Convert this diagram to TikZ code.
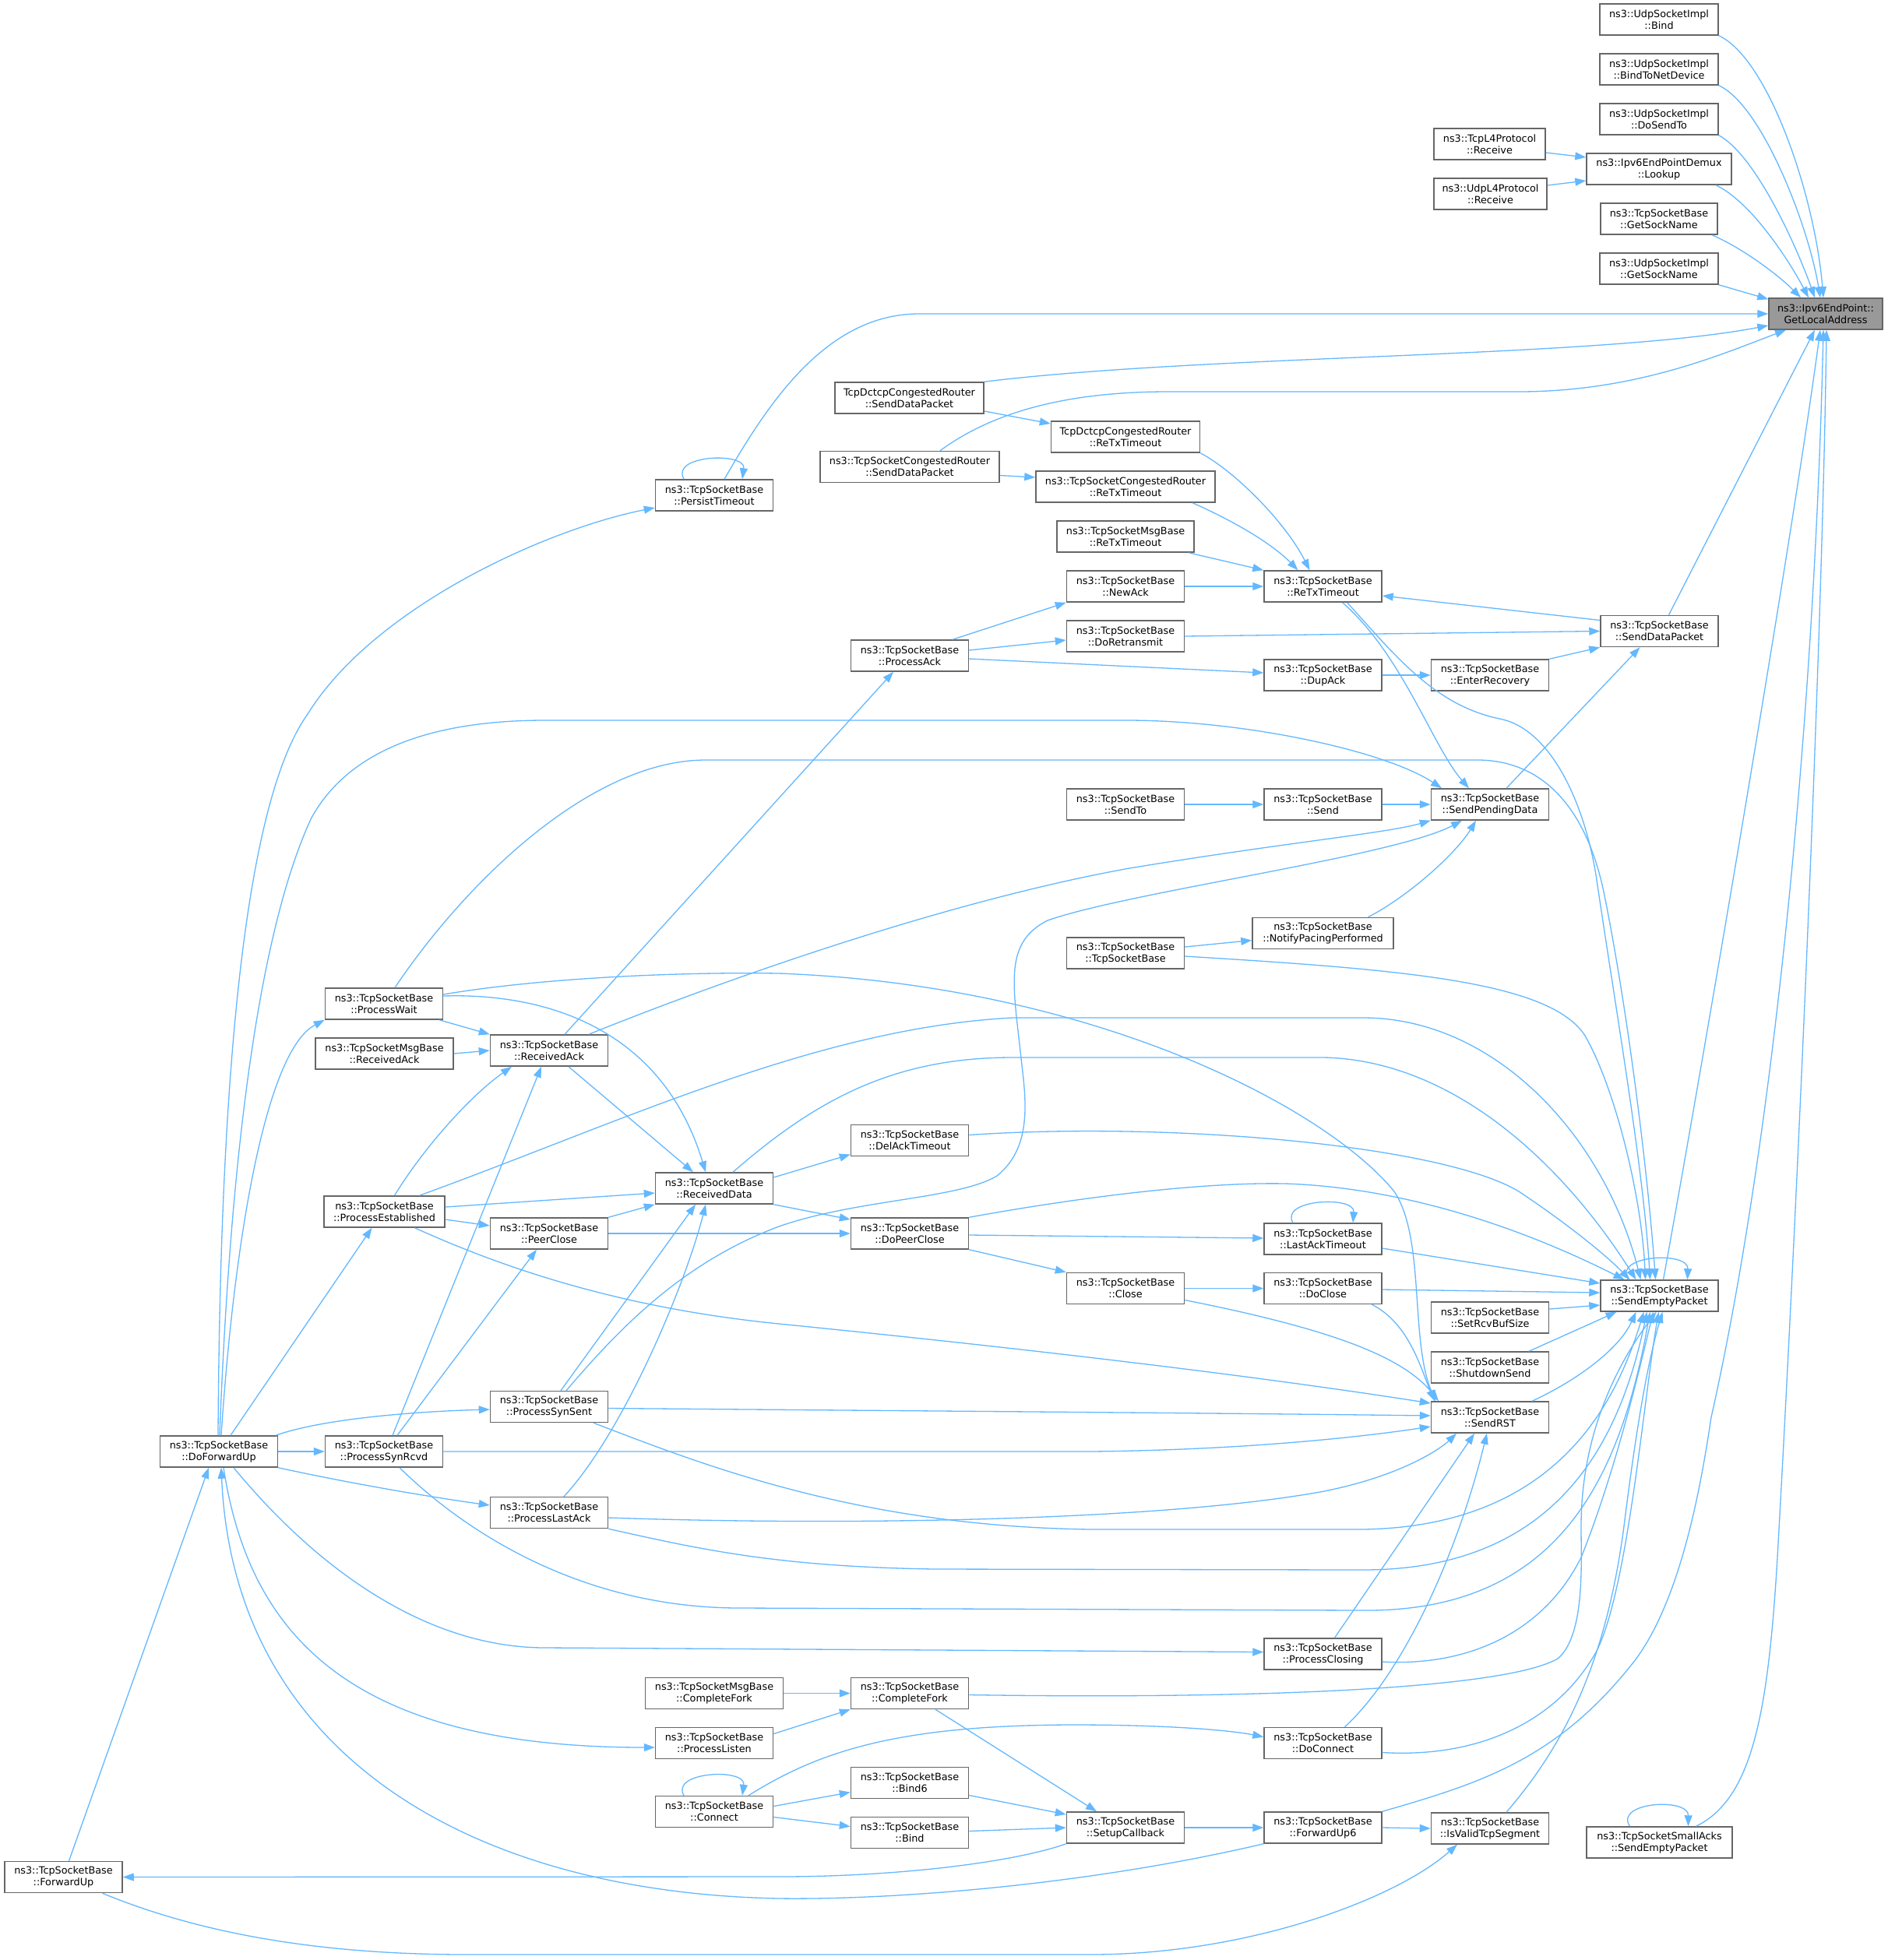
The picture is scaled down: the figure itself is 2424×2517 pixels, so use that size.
\documentclass[tikz,border=0pt]{standalone}
\usepackage{fontspec}
\setmainfont{DejaVu Sans}
\usetikzlibrary{arrows.meta}
\definecolor{edgec}{HTML}{63B8FF}
\definecolor{boxc}{HTML}{666666}
\definecolor{rootc}{HTML}{999999}
\tikzset{
  fn/.style={draw=boxc, line width=1.5pt, fill=white, minimum height=40pt, inner sep=0pt, align=center, font=\fontsize{12.8pt}{15pt}\selectfont},
  rootfn/.style={fn, fill=rootc},
  cedge/.style={draw=edgec, line width=1.3pt, -{Triangle[length=14pt,width=10pt]}},
}
\begin{document}
\begin{tikzpicture}[x=1pt,y=-1pt]
\fill[white] (0,0) rectangle (2424,2517);
\useasboundingbox (0,0) rectangle (2424,2517);
% ---------- nodes ----------
\node[rootfn, minimum width=146] (gla) at (2344,403) {ns3::Ipv6EndPoint::\\GetLocalAddress};
\node[fn, minimum width=152] (ubind) at (2130,25) {ns3::UdpSocketImpl\\::Bind};
\node[fn, minimum width=152] (ubtnd) at (2130,89) {ns3::UdpSocketImpl\\::BindToNetDevice};
\node[fn, minimum width=152] (udst) at (2130,153) {ns3::UdpSocketImpl\\::DoSendTo};
\node[fn, minimum width=186] (lookup) at (2130,217) {ns3::Ipv6EndPointDemux\\::Lookup};
\node[fn, minimum width=150] (tgsn) at (2130,281) {ns3::TcpSocketBase\\::GetSockName};
\node[fn, minimum width=152] (ugsn) at (2130,345) {ns3::UdpSocketImpl\\::GetSockName};
\node[fn, minimum width=143] (tcprecv) at (1912.5,185) {ns3::TcpL4Protocol\\::Receive};
\node[fn, minimum width=145] (udprecv) at (1913.5,249) {ns3::UdpL4Protocol\\::Receive};
\node[fn, minimum width=151] (sdp) at (2130.5,810.5) {ns3::TcpSocketBase\\::SendDataPacket};
\node[fn, minimum width=151] (sep) at (2130.5,1664) {ns3::TcpSocketBase\\::SendEmptyPacket};
\node[fn, minimum width=187] (sasep) at (2130.5,2366) {ns3::TcpSocketSmallAcks\\::SendEmptyPacket};
\node[fn, minimum width=151] (enterrec) at (1913,867) {ns3::TcpSocketBase\\::EnterRecovery};
\node[fn, minimum width=151] (spd) at (1913,1033) {ns3::TcpSocketBase\\::SendPendingData};
\node[fn, minimum width=151] (setrcv) at (1913,1692) {ns3::TcpSocketBase\\::SetRcvBufSize};
\node[fn, minimum width=151] (shutdown) at (1913,1756) {ns3::TcpSocketBase\\::ShutdownSend};
\node[fn, minimum width=151] (sendrst) at (1913,1820) {ns3::TcpSocketBase\\::SendRST};
\node[fn, minimum width=151] (isvalid) at (1913,2348) {ns3::TcpSocketBase\\::IsValidTcpSegment};
\node[fn, minimum width=151] (retx) at (1698.5,753) {ns3::TcpSocketBase\\::ReTxTimeout};
\node[fn, minimum width=151] (dupack) at (1698.5,867) {ns3::TcpSocketBase\\::DupAck};
\node[fn, minimum width=151] (send) at (1698.5,1033) {ns3::TcpSocketBase\\::Send};
\node[fn, minimum width=181] (notifypacing) at (1698.5,1198.5) {ns3::TcpSocketBase\\::NotifyPacingPerformed};
\node[fn, minimum width=151] (lastack) at (1698.5,1591) {ns3::TcpSocketBase\\::LastAckTimeout};
\node[fn, minimum width=151] (doclose) at (1698.5,1654.5) {ns3::TcpSocketBase\\::DoClose};
\node[fn, minimum width=151] (closing) at (1698.5,2124) {ns3::TcpSocketBase\\::ProcessClosing};
\node[fn, minimum width=151] (doconnect) at (1698.5,2238.5) {ns3::TcpSocketBase\\::DoConnect};
\node[fn, minimum width=151] (fwdup6) at (1698.5,2347) {ns3::TcpSocketBase\\::ForwardUp6};
\node[fn, minimum width=191] (dctcpretx) at (1445,561) {TcpDctcpCongestedRouter\\::ReTxTimeout};
\node[fn, minimum width=230] (crretx) at (1445,625) {ns3::TcpSocketCongestedRouter\\::ReTxTimeout};
\node[fn, minimum width=176] (msgretx) at (1445,689) {ns3::TcpSocketMsgBase\\::ReTxTimeout};
\node[fn, minimum width=151] (newack) at (1445,753) {ns3::TcpSocketBase\\::NewAck};
\node[fn, minimum width=151] (doretx) at (1445,817) {ns3::TcpSocketBase\\::DoRetransmit};
\node[fn, minimum width=151] (sendto) at (1445,1033) {ns3::TcpSocketBase\\::SendTo};
\node[fn, minimum width=151] (tsbctor) at (1445,1224) {ns3::TcpSocketBase\\::TcpSocketBase};
\node[fn, minimum width=151] (tclose) at (1445,1654.5) {ns3::TcpSocketBase\\::Close};
\node[fn, minimum width=151] (setupcb) at (1445,2347) {ns3::TcpSocketBase\\::SetupCallback};
\node[fn, minimum width=191] (dctcpsdp) at (1167.5,511) {TcpDctcpCongestedRouter\\::SendDataPacket};
\node[fn, minimum width=230] (crsdp) at (1168,599.5) {ns3::TcpSocketCongestedRouter\\::SendDataPacket};
\node[fn, minimum width=151] (processack) at (1168,842) {ns3::TcpSocketBase\\::ProcessAck};
\node[fn, minimum width=151] (delack) at (1168,1464.5) {ns3::TcpSocketBase\\::DelAckTimeout};
\node[fn, minimum width=151] (dopeerclose) at (1168,1584) {ns3::TcpSocketBase\\::DoPeerClose};
\node[fn, minimum width=151] (completefork) at (1168,2174.5) {ns3::TcpSocketBase\\::CompleteFork};
\node[fn, minimum width=151] (bindsix) at (1168,2289.5) {ns3::TcpSocketBase\\::Bind6};
\node[fn, minimum width=151] (tbind) at (1168,2353.5) {ns3::TcpSocketBase\\::Bind};
\node[fn, minimum width=151] (persist) at (917,636) {ns3::TcpSocketBase\\::PersistTimeout};
\node[fn, minimum width=151] (receiveddata) at (917,1526) {ns3::TcpSocketBase\\::ReceivedData};
\node[fn, minimum width=177] (msgcompletefork) at (917,2174.5) {ns3::TcpSocketMsgBase\\::CompleteFork};
\node[fn, minimum width=151] (processlisten) at (917,2238.5) {ns3::TcpSocketBase\\::ProcessListen};
\node[fn, minimum width=151] (connect) at (917,2326.5) {ns3::TcpSocketBase\\::Connect};
\node[fn, minimum width=151] (receivedack) at (705,1349) {ns3::TcpSocketBase\\::ReceivedAck};
\node[fn, minimum width=151] (peerclose) at (705,1584) {ns3::TcpSocketBase\\::PeerClose};
\node[fn, minimum width=151] (synsent) at (705,1806.5) {ns3::TcpSocketBase\\::ProcessSynSent};
\node[fn, minimum width=151] (lastackp) at (705,1942.5) {ns3::TcpSocketBase\\::ProcessLastAck};
\node[fn, minimum width=151] (processwait) at (493,1289) {ns3::TcpSocketBase\\::ProcessWait};
\node[fn, minimum width=177] (msgreceivedack) at (493.5,1353) {ns3::TcpSocketMsgBase\\::ReceivedAck};
\node[fn, minimum width=155] (established) at (493.5,1556) {ns3::TcpSocketBase\\::ProcessEstablished};
\node[fn, minimum width=151] (synrcvd) at (493,1864) {ns3::TcpSocketBase\\::ProcessSynRcvd};
\node[fn, minimum width=151] (doforwardup) at (281,1864) {ns3::TcpSocketBase\\::DoForwardUp};
\node[fn, minimum width=151] (forwardup) at (81.5,2410.5) {ns3::TcpSocketBase\\::ForwardUp};
% ---------- edges into GetLocalAddress ----------
\draw[cedge] (ubind.south east) .. controls (2270,75) and (2330,250) .. ([xshift=-3]gla.north);
\draw[cedge] (ubtnd.south east) .. controls (2262,135) and (2322,290) .. ([xshift=-7]gla.north);
\draw[cedge] (udst.south east) .. controls (2255,200) and (2308,320) .. ([xshift=-14]gla.north);
\draw[cedge] ([xshift=73]lookup.south) .. controls (2250,260) and (2300,340) .. ([xshift=-22]gla.north);
\draw[cedge] ([xshift=68]tgsn.south) .. controls (2240,320) and (2285,355) .. ([xshift=-32]gla.north);
\draw[cedge] (ugsn.south east) -- ([yshift=-2]gla.north west);
\draw[cedge] ([xshift=13]persist.north) .. controls (985,520) and (1060,403) .. (1180,403) -- (gla.west);
\draw[cedge] (dctcpsdp.north east) .. controls (1550,455) and (2050,460) .. ([yshift=-15]gla.west);
\draw[cedge] ([xshift=39]crsdp.north) .. controls (1280,525) and (1380,503) .. (1500,503) -- (1950,503) .. controls (2100,503) and (2210,455) .. ([xshift=-51]gla.south);
\draw[cedge] ([xshift=12]sdp.north) -- ([xshift=-14]gla.south);
\draw[cedge] ([xshift=5]sep.north) .. controls (2180,1400) and (2300,700) .. ([xshift=-7]gla.south);
\draw[cedge] (fwdup6.north east) .. controls (1900,2290) and (2000,2260) .. (2100,2131) .. controls (2160,2050) and (2185,1900) .. (2197,1820) .. controls (2280,1450) and (2330,900) .. ([xshift=-3]gla.south);
\draw[cedge] ([xshift=47]sasep.north) .. controls (2250,2310) and (2270,2200) .. (2282,2000) .. controls (2310,1500) and (2340,800) .. ([xshift=1]gla.south);
% ---------- self loops ----------
\draw[cedge] ([xshift=-39]persist.north) .. controls (860,584) and (958,580) .. ([xshift=36]persist.north);
\draw[cedge] ([xshift=-40]sep.north) .. controls (2070,1612) and (2168,1606) .. ([xshift=36]sep.north);
\draw[cedge] ([xshift=-38]sasep.north) .. controls (2072,2314) and (2168,2308) .. ([xshift=37]sasep.north);
\draw[cedge] ([xshift=-38.5]lastack.north) .. controls (1642,1540) and (1740,1535) .. ([xshift=38.5]lastack.north);
\draw[cedge] ([xshift=-39]connect.north) .. controls (860,2275) and (958,2270) .. ([xshift=36]connect.north);
% ---------- Lookup ----------
\draw[cedge] ([yshift=-11]tcprecv.east) -- ([yshift=15]lookup.west);
\draw[cedge] ([yshift=11]udprecv.east) -- ([yshift=-15]lookup.west);
% ---------- SendDataPacket / ReTxTimeout ----------
\draw[cedge] ([yshift=14]sdp.west) -- ([yshift=-12]retx.east);
\draw[cedge] (doretx.east) -- (sdp.west);
\draw[cedge] (enterrec.north east) -- (sdp.south west);
\draw[cedge] ([xshift=21]spd.north) -- ([xshift=-25]sdp.south);
\draw[cedge] (dctcpretx.south east) .. controls (1585,605) and (1650,670) .. ([xshift=-17]retx.north);
\draw[cedge] ([xshift=86]crretx.south) .. controls (1575,665) and (1630,695) .. ([xshift=-32]retx.north);
\draw[cedge] ([xshift=81]msgretx.south) -- (retx.north west);
\draw[cedge] (newack.east) -- (retx.west);
\draw[cedge] ([xshift=25]retx.south) .. controls (1800,840) and (1840,960) .. ([xshift=-27]spd.north);
\draw[cedge] ([xshift=31]retx.south) .. controls (1790,840) and (1840,905) .. (1925,923) .. controls (1990,935) and (2035,1030) .. (2050,1130) .. controls (2075,1300) and (2110,1500) .. ([xshift=-12]sep.north);
\draw[cedge] ([xshift=55]processack.north) -- (newack.south west);
\draw[cedge] ([yshift=7]processack.east) -- ([yshift=-5]doretx.west);
\draw[cedge] ([yshift=-4]processack.east) -- ([yshift=3]dupack.west);
\draw[cedge] (dupack.east) -- (enterrec.west);
\draw[cedge] ([yshift=-17]dctcpsdp.east) -- ([yshift=17]dctcpretx.west);
\draw[cedge] ([yshift=-11]crsdp.east) -- ([yshift=12]crretx.west);
\draw[cedge] (sendto.east) -- (send.west);
\draw[cedge] (send.east) -- (spd.west);
\draw[cedge] ([xshift=58]notifypacing.north) .. controls (1810,1150) and (1870,1095) .. ([xshift=-18]spd.south);
\draw[cedge] ([yshift=8]tsbctor.east) -- ([yshift=-9]notifypacing.west);
\draw[cedge] ([yshift=-4]tsbctor.east) .. controls (1800,1245) and (1990,1260) .. (2035,1330) .. controls (2075,1400) and (2108,1540) .. ([xshift=-18]sep.north);
% ---------- ReceivedAck ----------
\draw[cedge] ([xshift=20]receivedack.north) -- ([xshift=-21]processack.south);
\draw[cedge] ([xshift=51]receivedack.north) .. controls (900,1270) and (1200,1160) .. (1450,1115) .. controls (1650,1082) and (1780,1070) .. (spd.south west);
\draw[cedge] ([xshift=71]processwait.south) -- (receivedack.north west);
\draw[cedge] (msgreceivedack.east) -- (receivedack.west);
\draw[cedge] ([xshift=13]established.north) .. controls (540,1480) and (600,1410) .. ([xshift=-48]receivedack.south);
\draw[cedge] ([xshift=11]synrcvd.north) -- ([xshift=-10]receivedack.south);
\draw[cedge] ([xshift=25]receivedack.south) -- ([xshift=-27]receiveddata.north);
% ---------- ProcessWait ----------
\draw[cedge] ([yshift=10]processwait.east) .. controls (700,1275) and (850,1320) .. ([xshift=-11]receiveddata.north);
\draw[cedge] ([xshift=14]processwait.north) .. controls (600,1130) and (760,976) .. (906,976) -- (1900,976) .. controls (1990,978) and (2040,1050) .. (2060,1150) .. controls (2090,1300) and (2115,1500) .. ([xshift=-5]sep.north);
\draw[cedge] ([yshift=12]processwait.east) .. controls (700,1255) and (880,1248) .. (1000,1250) .. controls (1400,1265) and (1700,1420) .. (1790,1530) .. controls (1830,1590) and (1810,1720) .. ([xshift=-70]sendrst.north);
% ---------- DoForwardUp ----------
\draw[cedge] ([xshift=3]doforwardup.north) .. controls (300,1600) and (340,1350) .. (processwait.south west);
\draw[cedge] ([xshift=-1]doforwardup.north) .. controls (282,1500) and (300,1050) .. (395,917) .. controls (480,780) and (700,680) .. ([yshift=-16]persist.west);
\draw[cedge] ([xshift=1]doforwardup.north) .. controls (295,1500) and (330,1200) .. (400,1050) .. controls (450,960) and (560,925) .. (700,925) -- (1446,925) .. controls (1600,925) and (1780,965) .. ([xshift=-62]spd.north);
\draw[cedge] ([xshift=15]doforwardup.north) -- ([xshift=-16]established.south);
\draw[cedge] ([xshift=73]doforwardup.north) .. controls (420,1820) and (550,1812) .. ([yshift=-3.5]synsent.west);
\draw[cedge] (doforwardup.east) -- (synrcvd.west);
\draw[cedge] (doforwardup.south east) .. controls (450,1905) and (550,1922) .. ([yshift=9.5]lastackp.west);
\draw[cedge] ([xshift=19]doforwardup.south) .. controls (420,2030) and (560,2116) .. (700,2116) -- ([yshift=2.5]closing.west);
\draw[cedge] ([xshift=6]doforwardup.south) .. controls (320,2100) and (450,2244) .. ([yshift=-5.5]processlisten.west);
\draw[cedge] (fwdup6.south west) .. controls (1400,2420) and (1150,2440) .. (1000,2438) .. controls (600,2430) and (300,2250) .. ([xshift=3]doforwardup.south);
\draw[cedge] ([xshift=7]forwardup.north) -- ([xshift=-13]doforwardup.south);
\draw[cedge] ([xshift=50]forwardup.south) .. controls (250,2480) and (400,2510) .. (600,2510) -- (1400,2510) .. controls (1600,2510) and (1790,2440) .. ([xshift=-42]isvalid.south);
\draw[cedge] (setupcb.south west) .. controls (1300,2392) and (1150,2410) .. (1000,2410) -- (forwardup.east);
\draw[cedge] (setupcb.east) -- (fwdup6.west);
\draw[cedge] (fwdup6.east) -- (isvalid.west);
\draw[cedge] ([xshift=33]completefork.south) -- ([xshift=-37]setupcb.north);
\draw[cedge] ([yshift=-16]bindsix.east) -- ([yshift=17]setupcb.west);
\draw[cedge] ([yshift=2]tbind.east) -- (setupcb.west);
\draw[cedge] ([yshift=7]connect.east) -- ([yshift=-12]bindsix.west);
\draw[cedge] ([yshift=-7]connect.east) -- ([yshift=8]tbind.west);
\draw[cedge] ([xshift=44]connect.north) .. controls (1050,2250) and (1150,2215) .. (1380,2215) .. controls (1500,2215) and (1580,2222) .. ([yshift=8]doconnect.west);
% ---------- right-lower block ----------
\draw[cedge] ([xshift=28]doconnect.north) .. controls (1800,2150) and (1870,2000) .. ([xshift=-4]sendrst.south);
\draw[cedge] ([yshift=-12]doconnect.east) .. controls (1900,2258) and (2000,2210) .. (2050,2120) .. controls (2090,2040) and (2110,1800) .. ([xshift=-1]sep.south);
\draw[cedge] ([xshift=15]closing.north) -- ([xshift=-20]sendrst.south);
\draw[cedge] ([yshift=-10]closing.east) .. controls (1880,2140) and (1980,2100) .. (2030,2000) .. controls (2070,1900) and (2100,1780) .. ([xshift=-8]sep.south);
\draw[cedge] ([yshift=-2]completefork.east) .. controls (1600,2182) and (1930,2170) .. (2000,2130) .. controls (2035,2100) and (2030,2010) .. (2030,1960) .. controls (2030,1850) and (2070,1760) .. ([xshift=-4]sep.south);
\draw[cedge] (msgcompletefork.east) -- (completefork.west);
\draw[cedge] ([yshift=12]processlisten.east) -- (completefork.south west);
\draw[cedge] ([xshift=21]isvalid.north) .. controls (2000,2250) and (2060,2150) .. (2085,1960) .. controls (2100,1840) and (2115,1750) .. ([xshift=4]sep.south);
\draw[cedge] ([xshift=54]sendrst.north) .. controls (2030,1770) and (2080,1730) .. ([xshift=-30]sep.south);
\draw[cedge] ([xshift=50]shutdown.north) -- ([xshift=-55]sep.south);
\draw[cedge] ([yshift=11]setrcv.east) -- ([yshift=-12]sep.west);
\draw[cedge] ([yshift=-1.5]doclose.east) -- ([yshift=4]sep.west);
\draw[cedge] ([yshift=-12]lastack.east) -- ([yshift=16]sep.west);
\draw[cedge] ([xshift=63]doclose.south) .. controls (1810,1700) and (1825,1760) .. ([xshift=-71]sendrst.north);
\draw[cedge] (tclose.east) -- (doclose.west);
\draw[cedge] ([yshift=-15]tclose.east) .. controls (1700,1705) and (1800,1740) .. ([xshift=-66]sendrst.north);
\draw[cedge] (dopeerclose.south east) -- (tclose.north west);
\draw[cedge] ([yshift=-2]dopeerclose.east) -- ([yshift=1]lastack.west);
\draw[cedge] (dopeerclose.north east) .. controls (1400,1535) and (1550,1518) .. (1650,1520) .. controls (1800,1525) and (1950,1575) .. ([xshift=-45]sep.north);
\draw[cedge] (peerclose.east) -- (dopeerclose.west);
\draw[cedge] (receiveddata.south east) -- ([yshift=18]dopeerclose.west);
\draw[cedge] ([yshift=14]receiveddata.east) -- ([yshift=-18]delack.west);
\draw[cedge] ([xshift=24]receiveddata.north) .. controls (1050,1410) and (1150,1358) .. (1300,1358) -- (1700,1358) .. controls (1870,1362) and (2010,1500) .. ([xshift=-30]sep.north);
\draw[cedge] ([yshift=7]delack.east) .. controls (1500,1440) and (1850,1470) .. (1950,1530) .. controls (2010,1570) and (2060,1610) .. ([xshift=-38]sep.north);
% ---------- Process* ----------
\draw[cedge] ([yshift=6]established.east) -- ([yshift=-6]receiveddata.west);
\draw[cedge] ([yshift=-10]established.east) -- ([yshift=10]peerclose.west);
\draw[cedge] ([xshift=45]established.north) .. controls (800,1440) and (1050,1320) .. (1300,1307) -- (1750,1307) .. controls (1920,1307) and (2060,1460) .. ([xshift=-24]sep.north);
\draw[cedge] ([xshift=39]established.south) .. controls (650,1630) and (800,1680) .. (1000,1700) .. controls (1300,1730) and (1600,1765) .. ([yshift=18]sendrst.west);
\draw[cedge] (peerclose.north east) -- (receiveddata.south west);
\draw[cedge] ([xshift=15]synsent.north) -- ([xshift=-24]receiveddata.south);
\draw[cedge] ([xshift=19]lastackp.north) .. controls (800,1840) and (880,1650) .. ([xshift=-11]receiveddata.south);
\draw[cedge] ([yshift=-2]synsent.east) .. controls (1200,1812) and (1600,1815) .. ([yshift=2]sendrst.west);
\draw[cedge] ([xshift=57]synsent.south) .. controls (900,1880) and (1100,1960) .. (1400,1964) -- (1750,1964) .. controls (2000,1960) and (2075,1800) .. ([xshift=-20]sep.south);
\draw[cedge] ([xshift=22]synsent.north) .. controls (800,1700) and (880,1620) .. (1000,1575) .. controls (1100,1540) and (1230,1540) .. (1280,1510) .. controls (1330,1470) and (1315,1400) .. (1310,1350) .. controls (1300,1260) and (1290,1210) .. (1345,1182) .. controls (1450,1145) and (1790,1100) .. ([xshift=-36]spd.south);
\draw[cedge] ([xshift=17]synrcvd.north) -- ([xshift=-16]peerclose.south);
\draw[cedge] (synrcvd.east) -- (1400,1864) .. controls (1600,1862) and (1750,1845) .. ([yshift=-12]sendrst.west);
\draw[cedge] ([xshift=20]synrcvd.south) .. controls (600,1970) and (750,2065) .. (950,2065) -- (1750,2068) .. controls (2000,2070) and (2080,1900) .. ([xshift=-12]sep.south);
\draw[cedge] ([yshift=-6.5]lastackp.east) .. controls (1100,1960) and (1500,1952) .. (1700,1915) .. controls (1800,1895) and (1850,1860) .. ([xshift=-43]sendrst.south);
\draw[cedge] (lastackp.south east) .. controls (900,1990) and (1000,2012) .. (1200,2015) -- (1750,2016) .. controls (2000,2016) and (2080,1850) .. ([xshift=-16]sep.south);
\end{tikzpicture}
\end{document}
